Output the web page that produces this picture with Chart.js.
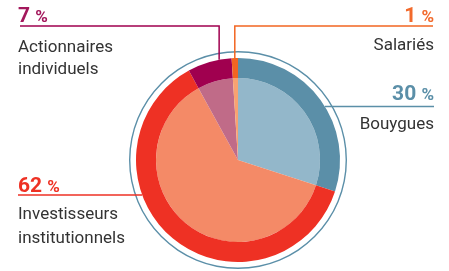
<!DOCTYPE html>
<html>
<head>
<meta charset="utf-8">
<script src="https://cdn.jsdelivr.net/npm/chart.js@4"></script>
<style>
  html, body { margin: 0; padding: 0; background: #fff; }
  #wrap { width: 449px; height: 271px; }
</style>
</head>
<body>
<div id="wrap"><canvas id="shareChart" width="449" height="271"></canvas></div>
<script>
const categories = [['Bouygues'], ['Investisseurs', 'institutionnels'], ['Actionnaires', 'individuels'], ['Salariés']];
const shares = [30, 62, 7, 1];
const ringColors = ['#5b8fa8', '#ee3124', '#a0004f', '#f26522'];
const fillColors = ['#93b7ca', '#f48a67', '#c06b88', '#f8a271'];
const pctColors = ['#5b8fa8', '#ee3124', '#a3185c', '#f26a2c'];

// where each leader line leaves the ring and where its text sits
const labelLayout = [
    { frac: 0.54, kind: 'side', toX: 434, x: 434, align: 'right', pctY: 100, textY: [129] },
    { frac: 0.636, kind: 'side', toX: 18, x: 18, align: 'left', pctY: 191.5, textY: [219, 243] },
    { frac: 0.72, kind: 'up', lineY: 26, toX: 20, x: 18, align: 'left', pctY: 22, textY: [51.5, 74] },
    { frac: 0.5, kind: 'up', lineY: 26, toX: 433, x: 434, align: 'right', pctY: 21.7, textY: [50] }
];

const textFont = '17px Roboto, "Liberation Sans", sans-serif';

const labelPlugin = {
    id: 'leaderLabels',
    afterDatasetsDraw(chart) {
        const ctx = chart.ctx;
        const meta = chart.getDatasetMeta(2);
        labelLayout.forEach((lay, i) => {
            const arc = meta.data[i];
            const a = arc.startAngle + (arc.endAngle - arc.startAngle) * lay.frac;
            const ax = arc.x + Math.cos(a) * arc.outerRadius;
            const ay = arc.y + Math.sin(a) * arc.outerRadius;
            ctx.save();
            ctx.strokeStyle = ringColors[i];
            ctx.lineWidth = 1.5;
            ctx.beginPath();
            if (lay.kind === 'up') {
                ctx.moveTo(ax, ay);
                ctx.lineTo(ax, lay.lineY);
                ctx.lineTo(lay.toX, lay.lineY);
            } else {
                ctx.moveTo(ax, ay);
                ctx.lineTo(lay.toX, ay);
            }
            ctx.stroke();

            // percentage: number big, % sign smaller
            ctx.fillStyle = pctColors[i];
            ctx.textBaseline = 'alphabetic';
            const num = String(shares[i]);
            ctx.font = 'bold 21px Roboto, sans-serif';
            const wNum = ctx.measureText(num + ' ').width;
            ctx.font = 'bold 17px Roboto, sans-serif';
            const wPct = ctx.measureText('%').width;
            let x0 = lay.align === 'right' ? lay.x - wNum - wPct : lay.x;
            ctx.textAlign = 'left';
            ctx.font = 'bold 21px Roboto, sans-serif';
            ctx.fillText(num + ' ', x0, lay.pctY);
            ctx.font = 'bold 17px Roboto, sans-serif';
            ctx.fillText('%', x0 + wNum, lay.pctY);

            ctx.fillStyle = '#333333';
            ctx.font = textFont;
            ctx.textAlign = lay.align;
            categories[i].forEach((line, k) => {
                ctx.fillText(line, lay.x, lay.textY[k]);
            });
            ctx.restore();
        });
    }
};

new Chart(document.getElementById('shareChart'), {
    type: 'pie',
    data: {
        labels: categories.map(c => c.join(' ')),
        datasets: [
            { data: [100], backgroundColor: ['#5b8fa8'], borderWidth: 0, weight: 1.4 },
            { data: [100], backgroundColor: ['rgba(255,255,255,0)'], borderWidth: 0, weight: 5.6 },
            { data: shares, backgroundColor: ringColors, borderWidth: 0, weight: 20 },
            { data: shares, backgroundColor: fillColors, borderWidth: 0, weight: 82 }
        ]
    },
    options: {
        responsive: false,
        animation: false,
        events: [],
        layout: { padding: { top: 51, bottom: 2, left: 129, right: 102 } },
        plugins: {
            legend: { display: false },
            tooltip: { enabled: false }
        }
    },
    plugins: [labelPlugin]
});
</script>
</body>
</html>
